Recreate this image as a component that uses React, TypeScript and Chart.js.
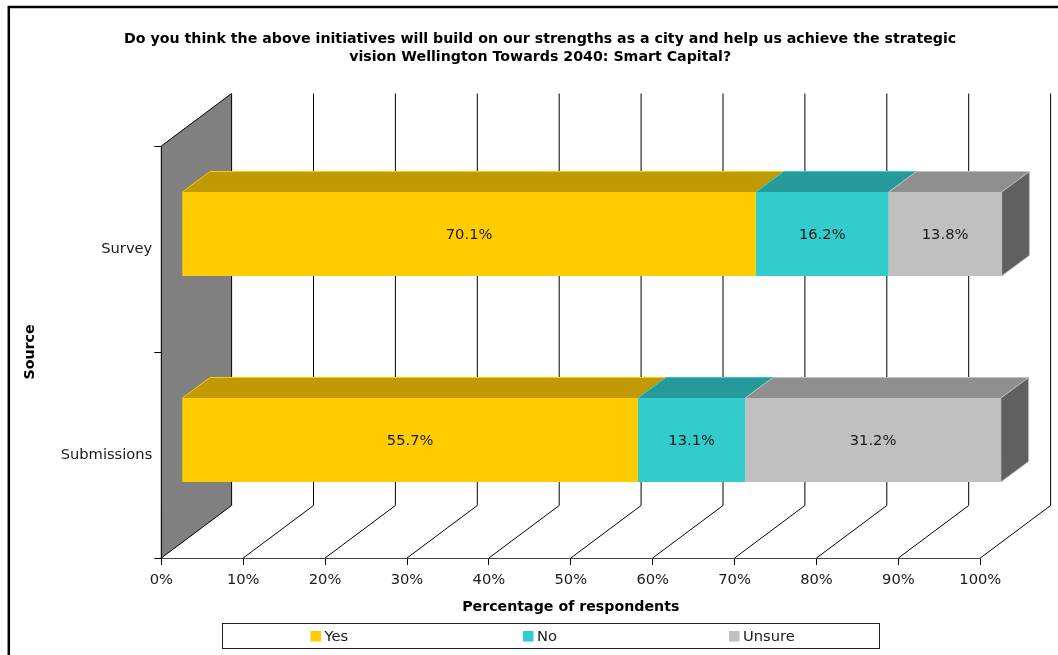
import React, { useEffect, useRef } from "react";
import { Chart, registerables } from "chart.js";

Chart.register(...registerables);

const titleLines = [
  "Do you think the above initiatives will build on our strengths as a city and help us achieve the strategic",
  "vision Wellington Towards 2040: Smart Capital?",
];
const sources = ["Survey", "Submissions"];
const yesValues = [70.1, 55.7];
const noValues = [16.2, 13.1];
const unsureValues = [13.8, 31.2];
const seriesNames = ["Yes", "No", "Unsure"];
const frontColours = ["#FFCC00", "#33CCCC", "#C0C0C0"];
const topColours = ["#C09A00", "#269A9A", "#8F8F8F"];
const sideColour = "#606060";

const FONT = '"DejaVu Sans", Verdana, sans-serif';
const TEXT_SIZE = 14.7;
const BOLD_SIZE = 14.2;

// Oblique offsets of the 3D projection, in pixels.
const WALL_DX = 70.3;
const WALL_DY = -52.5;
const BAR_DX = 20.5;
const BAR_DY = -15;
const BAR_DEPTH_X = 27.8;
const BAR_DEPTH_Y = -20.5;

const poly = (ctx: CanvasRenderingContext2D, pts: number[][], fill: string, stroke?: string) => {
  ctx.beginPath();
  pts.forEach(([x, y], i) => (i ? ctx.lineTo(x, y) : ctx.moveTo(x, y)));
  ctx.closePath();
  ctx.fillStyle = fill;
  ctx.fill();
  if (stroke) {
    ctx.strokeStyle = stroke;
    ctx.lineWidth = 1;
    ctx.stroke();
  }
};

// Outer frame, grey side wall and the gridlines running across floor and back wall.
const backdrop = {
  id: "backdrop",
  afterLayout(chart: any) {
    // Widen the category axis box so its long labels and title sit left of the plot margin.
    chart.scales.y.left = 22;
  },
  beforeDraw(chart: any) {
    const { ctx } = chart;
    ctx.save();
    ctx.strokeStyle = "#000";
    ctx.lineWidth = 2.5;
    ctx.beginPath();
    ctx.moveTo(8.8, 660);
    ctx.lineTo(8.8, 7);
    ctx.lineTo(1060, 7);
    ctx.stroke();
    ctx.restore();
  },
  beforeDatasetsDraw(chart: any) {
    const { ctx, chartArea, scales } = chart;
    const { top, bottom, left } = chartArea;
    ctx.save();
    poly(
      ctx,
      [
        [left, top],
        [left + WALL_DX, top + WALL_DY],
        [left + WALL_DX, bottom + WALL_DY],
        [left, bottom],
      ],
      "#808080",
    );
    ctx.strokeStyle = "#000";
    ctx.lineWidth = 1;
    ctx.beginPath();
    ctx.moveTo(left, bottom);
    ctx.lineTo(left, top);
    ctx.lineTo(left + WALL_DX, top + WALL_DY);
    ctx.stroke();
    for (const tick of scales.x.ticks) {
      const x = scales.x.getPixelForValue(tick.value);
      ctx.beginPath();
      ctx.moveTo(x, bottom);
      ctx.lineTo(x + WALL_DX, bottom + WALL_DY);
      ctx.lineTo(x + WALL_DX, top + WALL_DY);
      ctx.stroke();
    }
    ctx.restore();
    // Bars stand partway into the depth of the floor.
    ctx.save();
    ctx.translate(BAR_DX, BAR_DY);
  },
  afterDatasetsDraw(chart: any) {
    const { ctx } = chart;
    // Still shifted: add the top and end faces, then the value labels.
    const count = chart.data.datasets.length;
    chart.data.datasets.forEach((ds: any, d: number) => {
      chart.getDatasetMeta(d).data.forEach((bar: any) => {
        const { x, y, base, height } = bar.getProps(["x", "y", "base", "height"], true);
        const t = y - height / 2;
        poly(
          ctx,
          [
            [base, t],
            [base + BAR_DEPTH_X, t + BAR_DEPTH_Y],
            [x + BAR_DEPTH_X, t + BAR_DEPTH_Y],
            [x, t],
          ],
          topColours[d],
        );
        ctx.strokeStyle = frontColours[d];
        ctx.lineWidth = 1;
        ctx.beginPath();
        ctx.moveTo(base, t);
        ctx.lineTo(base + BAR_DEPTH_X, t + BAR_DEPTH_Y);
        ctx.lineTo(x + BAR_DEPTH_X, t + BAR_DEPTH_Y);
        ctx.stroke();
        if (d === count - 1) {
          const b = t + height;
          poly(
            ctx,
            [
              [x, t],
              [x + BAR_DEPTH_X, t + BAR_DEPTH_Y],
              [x + BAR_DEPTH_X, b + BAR_DEPTH_Y],
              [x, b],
            ],
            sideColour,
            frontColours[d],
          );
        }
      });
    });
    chart.data.datasets.forEach((ds: any, d: number) => {
      chart.getDatasetMeta(d).data.forEach((bar: any, i: number) => {
        const { x, y, base } = bar.getProps(["x", "y", "base"], true);
        ctx.font = `${TEXT_SIZE}px ${FONT}`;
        ctx.fillStyle = "#1a1a1a";
        ctx.textAlign = "center";
        ctx.textBaseline = "middle";
        ctx.fillText(`${ds.data[i].toFixed(1)}%`, (x + base) / 2, y + 1);
      });
    });
    ctx.restore();
  },
  afterDraw(chart: any) {
    // Boxed legend with evenly spread entries.
    const { ctx } = chart;
    const boxLeft = 222.5;
    const boxRight = 879.5;
    const boxTop = 623.5;
    const boxBottom = 648.5;
    const swatchX = [310.5, 523, 729];
    ctx.save();
    ctx.strokeStyle = "#222";
    ctx.lineWidth = 1;
    ctx.strokeRect(boxLeft, boxTop, boxRight - boxLeft, boxBottom - boxTop);
    ctx.font = `${TEXT_SIZE}px ${FONT}`;
    ctx.textAlign = "left";
    ctx.textBaseline = "middle";
    chart.data.datasets.forEach((ds: any, d: number) => {
      ctx.fillStyle = ds.backgroundColor;
      ctx.fillRect(swatchX[d], 631, 10.5, 10.5);
      ctx.fillStyle = "#1a1a1a";
      ctx.fillText(ds.label, swatchX[d] + 14, 637.5);
    });
    ctx.restore();
  },
};

export default function App() {
  const ref = useRef<HTMLCanvasElement>(null);
  useEffect(() => {
    const values = [yesValues, noValues, unsureValues];
    const chart = new Chart(ref.current!, {
      type: "bar",
      data: {
        labels: sources,
        datasets: seriesNames.map((label, i) => ({
          label,
          data: values[i],
          backgroundColor: frontColours[i],
          borderWidth: 0,
          categoryPercentage: 1,
          barPercentage: 84 / 206,
          clip: false as any,
        })),
      },
      plugins: [backdrop],
      options: {
        indexAxis: "y",
        responsive: false,
        animation: false,
        layout: { padding: { left: 100, right: 77.7, top: 0, bottom: 0 } },
        plugins: {
          legend: { display: false },
          tooltip: { enabled: false },
          title: {
            display: true,
            text: titleLines,
            color: "#000",
            font: { family: FONT, size: BOLD_SIZE, weight: "bold", lineHeight: 18 / BOLD_SIZE },
            padding: { top: 30, bottom: 80 },
          },
        },
        scales: {
          x: {
            stacked: true,
            min: 0,
            max: 100,
            border: { color: "#444" },
            grid: { drawOnChartArea: false, tickLength: 7, color: "#000" },
            ticks: {
              stepSize: 10,
              maxRotation: 0,
              autoSkip: false,
              padding: 6,
              color: "#1a1a1a",
              font: { family: FONT, size: TEXT_SIZE },
              callback: (v: any) => `${v}%`,
            },
            title: {
              display: true,
              text: "Percentage of respondents",
              color: "#000",
              font: { family: FONT, size: BOLD_SIZE, weight: "bold" },
              padding: { top: 0, bottom: 39.5 },
            },
            afterFit: (s: any) => {
              s.height = 97;
            },
          },
          y: {
            stacked: true,
            border: { color: "#000" },
            grid: { drawOnChartArea: false, tickLength: 7, color: "#000" },
            ticks: {
              padding: 2,
              color: "#1a1a1a",
              font: { family: FONT, size: TEXT_SIZE },
            },
            title: {
              display: true,
              text: "Source",
              color: "#000",
              font: { family: FONT, size: BOLD_SIZE, weight: "bold" },
              padding: { top: 0, bottom: 0 },
            },
            afterFit: (s: any) => {
              s.width = 61.3;
            },
          },
        },
      },
    });
    return () => chart.destroy();
  }, []);
  return (
    <canvas
      ref={ref}
      width={1058}
      height={655}
      style={{ position: "absolute", left: 0, top: 0, display: "block" }}
    />
  );
}
